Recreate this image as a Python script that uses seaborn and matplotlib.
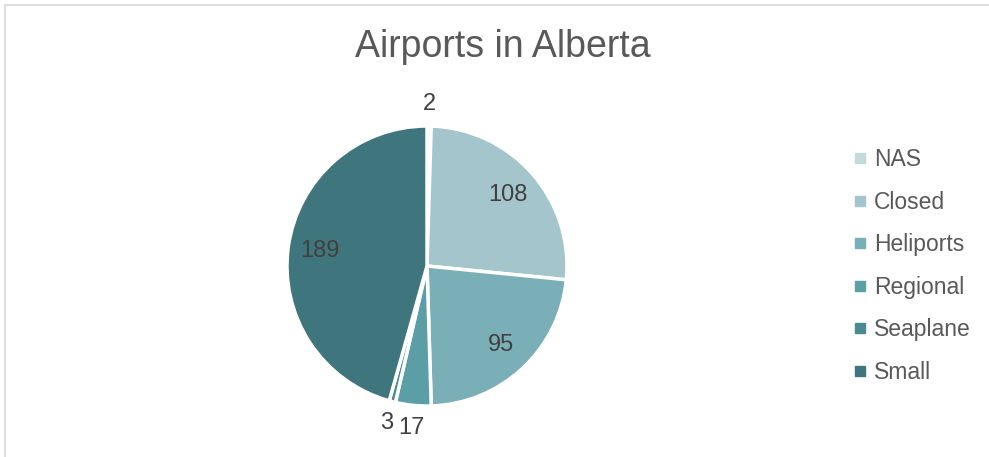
import matplotlib
matplotlib.use("Agg")
import matplotlib.pyplot as plt
from matplotlib.lines import Line2D
import numpy as np
import seaborn as sns

# Airport counts by category
categories = ["NAS", "Closed", "Heliports", "Regional", "Seaplane", "Small"]
counts = [2, 108, 95, 17, 3, 189]
colors = ["#c3dadd", "#a4c5cb", "#7aafb8", "#5b9ea6", "#4b8a91", "#3f767d"]

sns.set_theme(style="white")
plt.rcParams["font.family"] = ["Liberation Sans", "DejaVu Sans"]

W, H = 989, 457
fig = plt.figure(figsize=(W / 100, H / 100), dpi=100)
fig.patch.set_facecolor("white")

# chart frame (top and left edges visible)
fig.add_artist(Line2D([4.5 / W, 4.5 / W], [0, 1 - 4.5 / H], transform=fig.transFigure,
                      color="#d9d9d9", lw=1.2))
fig.add_artist(Line2D([4.5 / W, 1], [1 - 4.5 / H, 1 - 4.5 / H], transform=fig.transFigure,
                      color="#d9d9d9", lw=1.2))

cx, cy, r = 427, 266, 140
ax = fig.add_axes([(cx - r) / W, (H - cy - r) / H, 2 * r / W, 2 * r / H])

wedges, _ = ax.pie(counts, colors=colors, startangle=90, counterclock=False,
                   wedgeprops=dict(edgecolor="white", linewidth=2.5))
ax.set_xlim(-1, 1)
ax.set_ylim(-1, 1)
ax.axis("off")

# value labels: inside large slices, outside the thin ones
total = sum(counts)
cum = np.cumsum([0] + counts)
for i, v in enumerate(counts):
    mid = (cum[i] + cum[i + 1]) / 2 / total * 360  # clockwise from top
    th = np.deg2rad(90 - mid)
    dist = 0.77 if v / total > 0.1 else 1.16
    ax.text(dist * np.cos(th), dist * np.sin(th), str(v), ha="center", va="center",
            fontsize=17, color="#404040", clip_on=False)

fig.text(503 / W, 1 - 47 / H, "Airports in Alberta", ha="center", va="center",
         fontsize=27, color="#595959")

handles = [Line2D([], [], marker="s", linestyle="none", markersize=7,
                  markerfacecolor=c, markeredgecolor=c) for c in colors]
leg = fig.legend(handles, categories, loc="upper left",
                 bbox_to_anchor=(844 / W, 1 - 139 / H), frameon=False,
                 fontsize=16.5, labelcolor="#595959", handlelength=0.6,
                 handletextpad=0.3, labelspacing=0.85, borderaxespad=0)

fig.savefig("out.png", dpi=100, facecolor="white")
